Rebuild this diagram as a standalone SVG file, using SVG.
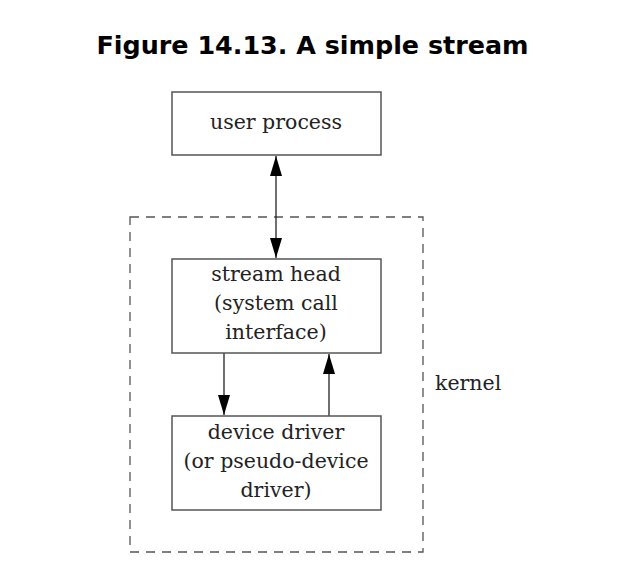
<svg xmlns="http://www.w3.org/2000/svg" width="635" height="583" viewBox="0 0 635 583">
<style>
.box{fill:#fff;stroke:#555;stroke-width:1.5}
.lbl{font-family:"DejaVu Serif",serif;font-size:20.5px;fill:#222;text-anchor:middle}
.conn{stroke:#222;stroke-width:1.3;fill:none}
</style>
<defs>
<marker id="ah" viewBox="0 0 20 12" refX="20" refY="6" markerWidth="20" markerHeight="12" markerUnits="userSpaceOnUse" orient="auto-start-reverse">
<path d="M0,0 L20,6 L0,12 Z" fill="#000"/>
</marker>
</defs>
<rect width="635" height="583" fill="#fff"/>
<text x="312.5" y="54" font-family="DejaVu Sans,sans-serif" font-weight="bold" font-size="25.4" text-anchor="middle" fill="#000">Figure 14.13. A simple stream</text>
<g id="kernel">
<rect x="130" y="217" width="293" height="335" fill="none" stroke="#555" stroke-width="1.3" stroke-dasharray="9,7"/>
<text x="435" y="390" class="lbl" style="text-anchor:start">kernel</text>
</g>
<g id="connectors">
<line class="conn" x1="276" y1="156" x2="276" y2="258" marker-start="url(#ah)" marker-end="url(#ah)"/>
<line class="conn" x1="224" y1="353" x2="224" y2="415" marker-end="url(#ah)"/>
<line class="conn" x1="329" y1="416" x2="329" y2="354" marker-end="url(#ah)"/>
</g>
<g id="user-process">
<rect class="box" x="172" y="92" width="209" height="63"/>
<text class="lbl" x="276" y="129">user process</text>
</g>
<g id="stream-head">
<rect class="box" x="172" y="259" width="209" height="94"/>
<text class="lbl" x="276" y="281">stream head</text>
<text class="lbl" x="276" y="310">(system call</text>
<text class="lbl" x="276" y="339">interface)</text>
</g>
<g id="device-driver">
<rect class="box" x="172" y="416" width="209" height="94"/>
<text class="lbl" x="276" y="439">device driver</text>
<text class="lbl" x="276" y="468">(or pseudo-device</text>
<text class="lbl" x="276" y="497">driver)</text>
</g>
</svg>
